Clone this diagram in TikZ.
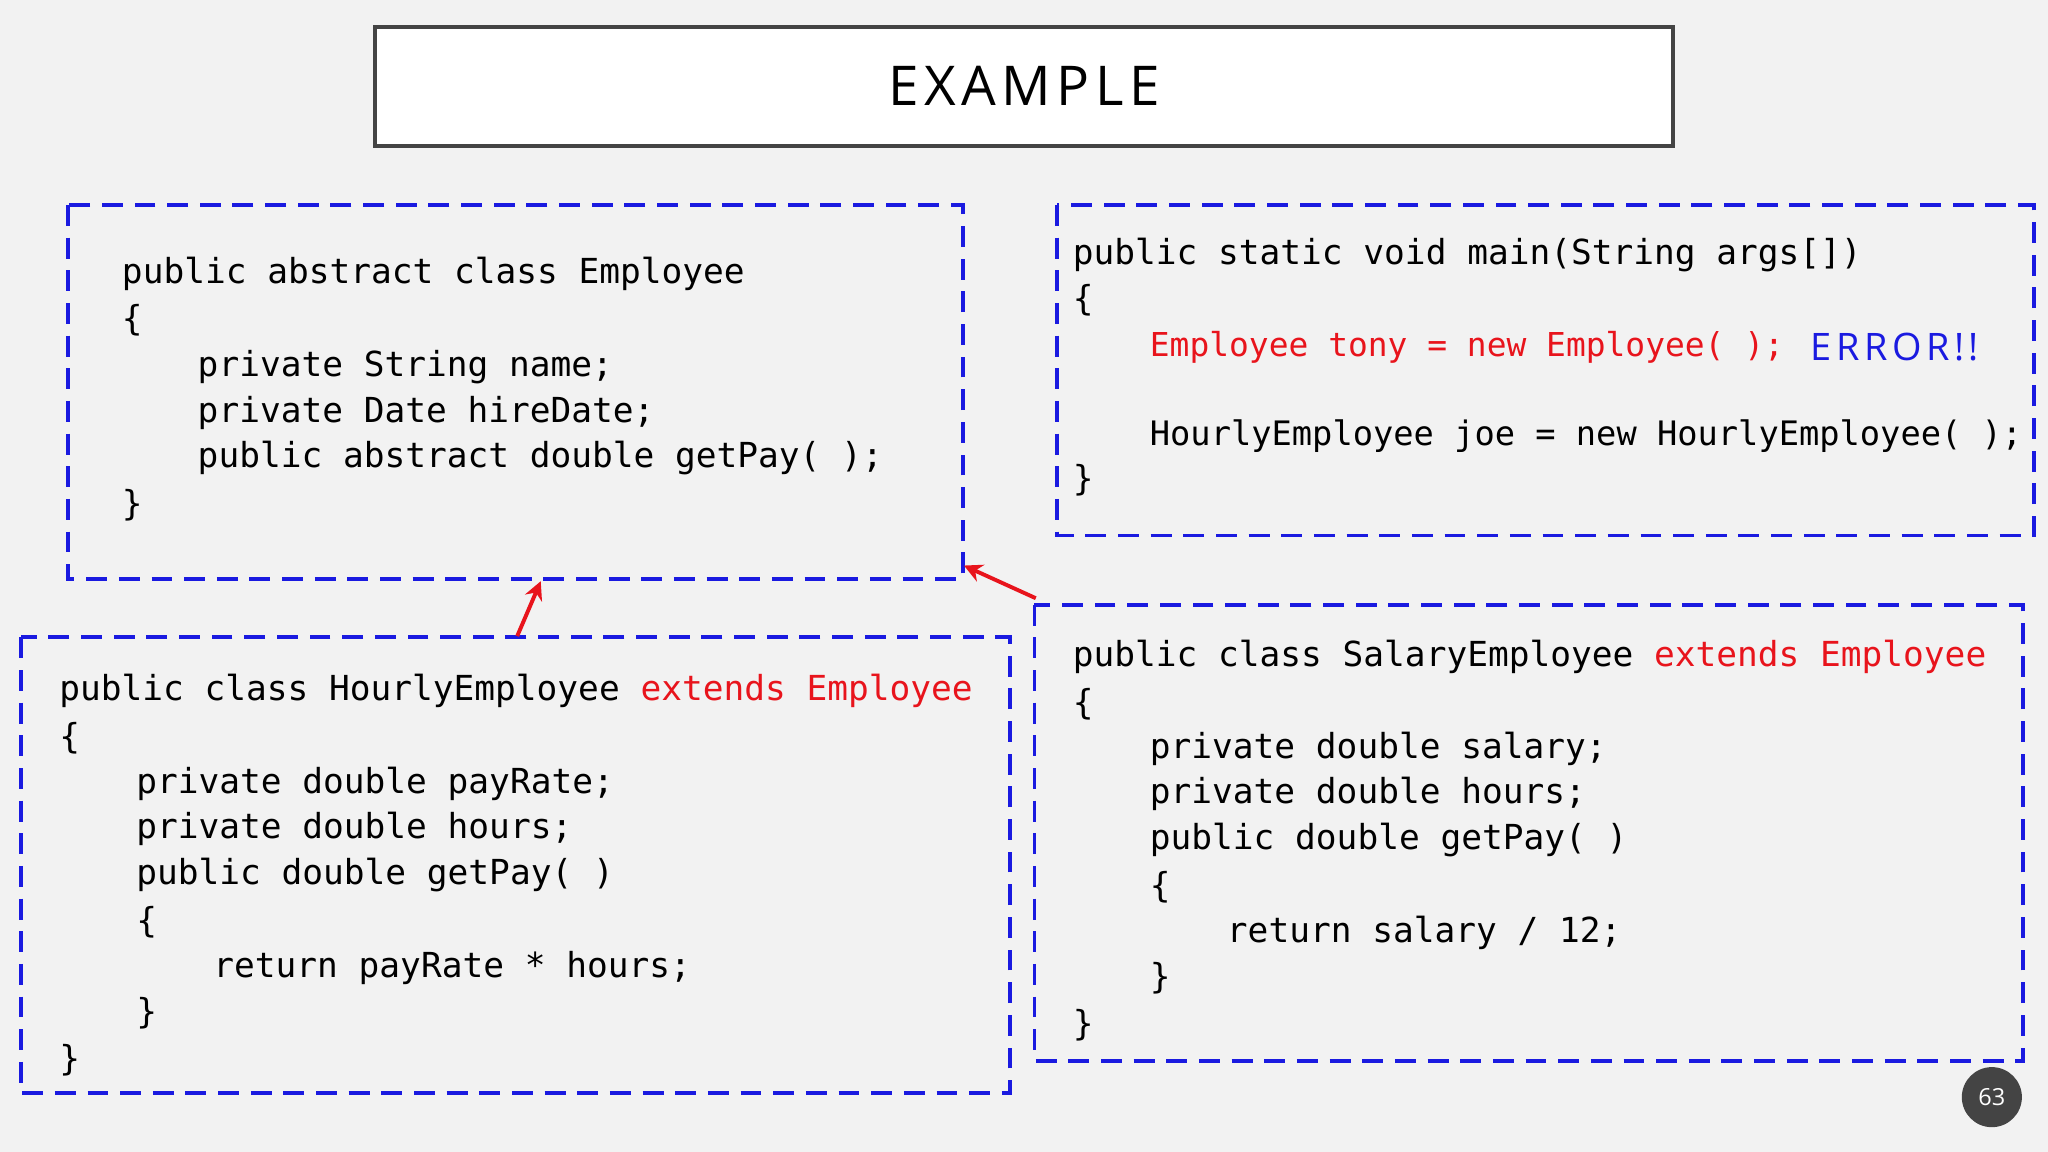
\documentclass[tikz,border=0pt]{standalone}
\usepackage{fontspec}
\usetikzlibrary{arrows.meta}
\setmainfont{Open Sans}
\setmonofont{DejaVu Sans Mono}
\definecolor{bg}{HTML}{F2F2F2}
\definecolor{cred}{HTML}{E8141C}
\definecolor{cblue}{HTML}{1A1AE0}
\definecolor{frame}{HTML}{444444}
\begin{document}
\begin{tikzpicture}[x=0.5pt,y=-0.5pt,
  codebox/.style={draw=cblue,line width=1.5pt,dash pattern=on 8pt off 4.5pt},
  code/.style={anchor=west,inner sep=0pt,font=\fontsize{13.2}{15}\ttfamily},
  arr/.style={draw=cred,line width=1.5pt,-{Stealth[length=7pt,width=7pt]}}]
\useasboundingbox (0,0) rectangle (1568,882);
\fill[bg] (0,0) rectangle (1568,882);
\node[draw=frame,fill=white,line width=1.5pt,minimum width=497pt,minimum height=45.5pt,font=\fontsize{21}{26}\selectfont\addfontfeature{LetterSpace=10}] (title) at (784,66) {EXAMPLE};
% boxes
\draw[codebox] (52,157) rectangle (737,443);
\draw[codebox] (809,157) rectangle (1557,410);
\draw[codebox] (16,488) rectangle (773,837);
\draw[codebox] (792,463) rectangle (1549,812);
\coordinate (b1bot) at (414,445); \coordinate (b3top) at (396,487);
\coordinate (b1corner) at (738,433); \coordinate (b4corner) at (793,458);
\draw[arr] (b3top) -- (b1bot);
\draw[arr] (b4corner) -- (b1corner);
% box1
\node[code] (a1) at (93,210) {public abstract class Employee};
\node[code] (a2) at (93,245) {\{};
\node[code] (a3) at (151,281) {private String name;};
\node[code] (a4) at (151,316) {private Date hireDate;};
\node[code] (a5) at (151,351) {public abstract double getPay( );};
\node[code] (a6) at (93,387) {\}};
% box2
\node[code] (m1) at (821,195) {public static void main(String args[])};
\node[code] (m2) at (821,230) {\{};
\node[code,text=cred,font=\fontsize{12.6}{15}\ttfamily] (m3) at (880,266) {Employee tony = new Employee( );};
\node[anchor=west,inner sep=0pt,text=cblue,font=\fontsize{14.5}{16}\selectfont\addfontfeature{LetterSpace=12}] (m4) at (1386,266) {ERROR!!};
\node[code,font=\fontsize{12.9}{15}\ttfamily] (m5) at (880,334) {HourlyEmployee joe = new HourlyEmployee( );};
\node[code] (m6) at (821,368) {\}};
% box3
\node[code] (h1) at (45,529) {public class HourlyEmployee \textcolor{cred}{extends Employee}};
\node[code] (h2) at (45,565) {\{};
\node[code] (h3) at (104,600) {private double payRate;};
\node[code] (h4) at (104,635) {private double hours;};
\node[code] (h5) at (104,670) {public double getPay( )};
\node[code] (h6) at (104,706) {\{};
\node[code] (h7) at (163,741) {return payRate * hours;};
\node[code] (h8) at (104,776) {\}};
\node[code] (h9) at (45,812) {\}};
% box4
\node[code] (s1) at (821,503) {public class SalaryEmployee \textcolor{cred}{extends Employee}};
\node[code] (s2) at (821,539) {\{};
\node[code] (s3) at (880,573) {private double salary;};
\node[code] (s4) at (880,608) {private double hours;};
\node[code] (s5) at (880,643) {public double getPay( )};
\node[code] (s6) at (880,679) {\{};
\node[code] (s7) at (939,714) {return salary / 12;};
\node[code] (s8) at (880,749) {\}};
\node[code] (s9) at (821,785) {\}};
% page number
\node[circle,fill=frame,minimum size=23pt,inner sep=0pt,text=white,font=\fontsize{9}{10}\selectfont] (pg) at (1525,840) {63};
\end{tikzpicture}
\end{document}
